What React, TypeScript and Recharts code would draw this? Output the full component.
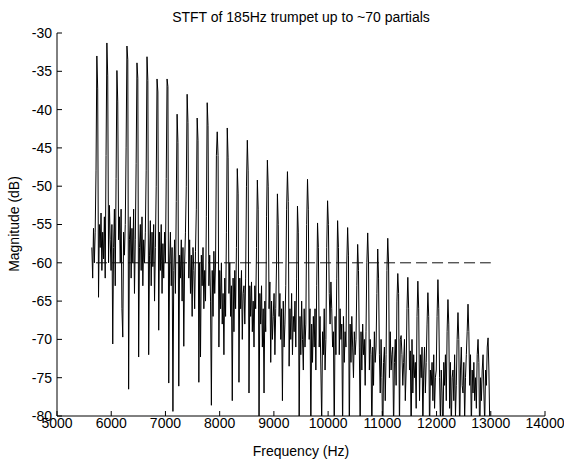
import React from 'react';
import { LineChart, Line, XAxis, YAxis } from 'recharts';

const title = 'STFT of 185Hz trumpet up to ~70 partials';
const xLabel = 'Frequency (Hz)';
const yLabel = 'Magnitude (dB)';
const xTicks = [5000, 6000, 7000, 8000, 9000, 10000, 11000, 12000, 13000, 14000];
const yTicks = [-80, -75, -70, -65, -60, -55, -50, -45, -40, -35, -30];

const fundamentalHz = 185;
const firstPartial = 31;
const binsPerPartial = 12;

// bins before partial 31
const leadBins = [-58, -62, -55.5, -60, -56, -48];

// partials 31-40, 12 bins per partial (peak first)
const partials31to40 = [
  -33.0, -37.3, -64.5, -55, -58, -53.5, -61, -56, -59.5, -54, -62, -46,
  -31.3, -35.6, -60, -52.5, -57, -61, -55, -70.6, -58, -53, -63, -49,
  -34.9, -39, -57, -54, -60, -53, -66, -69.7, -56, -59, -55, -45,
  -31.7, -33.5, -76.5, -57, -54, -62, -55.5, -60, -53, -64, -57, -47,
  -33.9, -35.9, -72.3, -58, -55, -61, -54, -63, -57, -60, -56, -48,
  -33.1, -36.2, -72, -59, -54.5, -63, -56, -60.5, -55, -65, -58, -50,
  -36.0, -37.7, -68.8, -56, -61, -55, -64, -57.5, -62, -56, -60, -49,
  -36.0, -37.0, -75.7, -60, -56, -63, -58, -79.4, -61, -57, -64, -52,
  -40.6, -44.3, -76.1, -59, -62, -57, -65, -58, -70.9, -60, -56, -50,
  -38.0, -41.7, -62, -57, -64, -59, -67, -58, -61, -66, -58.5, -53,
];

// partials 41-50
const partials41to50 = [
  -41.1, -44, -75.6, -60, -72.3, -59, -63, -58, -66, -61, -65, -54,
  -39.1, -42.1, -63, -59, -65, -78.6, -61, -67, -58.5, -64, -60, -46,
  -42.9, -46, -71, -61, -66, -60, -68, -64, -72, -62, -67, -56,
  -42.4, -46.3, -64, -60, -67, -63, -78, -62, -69, -61, -66, -58,
  -47.7, -51, -75.6, -62, -66, -61, -70, -64, -63, -68, -62, -50,
  -44.0, -48, -77, -63, -67, -62.5, -69, -65, -71, -63, -66, -58,
  -49.2, -53, -82, -64, -68, -63, -71, -66, -77, -65, -69, -54,
  -46.6, -50, -66, -62.5, -73, -65, -70, -67, -64, -72, -66, -60,
  -51.0, -55, -67, -64, -70, -66, -78, -65, -71, -68, -63, -53,
  -48.1, -52, -73.5, -66, -70, -64, -72, -67, -69, -65, -71, -62,
];

// partials 51-60
const partials51to60 = [
  -52.6, -56, -82, -67, -72, -65, -70, -74, -66, -71, -68, -55,
  -49.1, -53, -70, -66, -83, -68, -73, -67, -71, -66, -74, -63,
  -54.8, -58, -71, -67, -74, -81, -69, -72, -66, -74, -70, -58,
  -51.9, -55, -64, -68, -62.5, -66, -71, -69, -83, -67, -72, -62,
  -54.5, -58, -72, -66, -70, -68, -82, -67, -73, -69, -71, -60,
  -55.4, -59, -83, -68, -73, -67, -71, -75, -69, -72, -70, -63,
  -57.6, -61, -71, -82, -69, -74, -68, -72, -70, -76, -69, -60,
  -56.1, -60, -74, -70, -72, -83, -71, -76, -69, -73, -71, -64,
  -58.2, -62, -72, -77, -70, -75, -84, -73, -71, -78, -72, -61,
  -56.8, -60, -75, -69, -74, -72, -71, -82, -73, -70, -76, -65,
];

// partials 61-70
const partials61to70 = [
  -61.4, -64, -82, -70, -69.5, -72, -76, -73, -70, -78, -74, -66,
  -61.9, -66, -74, -71.5, -83, -70, -77, -72, -75, -73, -79, -67,
  -62.4, -66, -78, -72, -75, -71, -82, -74, -71, -77, -73, -68,
  -63.9, -67, -83, -74, -76, -73, -78, -72, -79, -75, -74, -67,
  -62.2, -66, -75, -81, -74, -77, -84, -73, -76, -72, -78, -69,
  -64.8, -68, -79, -73, -82, -75, -74, -78, -72, -80, -76, -70,
  -66.5, -70, -83, -74, -71, -76, -77, -73, -80.5, -75, -72, -69,
  -65.4, -69, -76, -72, -82, -74, -77, -73, -78, -75, -79, -72,
  -70.0, -73, -84, -75, -78, -74, -72, -77, -81, -74, -76, -71,
  -69.8, -74, -81, -83,
];

const thresholdDb = -60;
const thresholdFreqs = [5720, 13000];

const binHz = fundamentalHz / binsPerPartial;
const firstBinHz = firstPartial * fundamentalHz - leadBins.length * binHz;
const magnitudes = [...leadBins, ...partials31to40, ...partials41to50, ...partials51to60, ...partials61to70];
const spectrum = magnitudes.map((db, i) => ({ f: firstBinHz + i * binHz, db }));
const thresholdData = thresholdFreqs.map((f) => ({ f, t: thresholdDb }));

const font = '"Liberation Sans", Arial, sans-serif';

export default function App() {
  return (
    <div style={{ position: 'absolute', left: 0, top: 0, width: 564, height: 459, background: '#fff', fontFamily: font, color: '#000' }}>
      <LineChart width={564} height={459} data={spectrum} margin={{ top: 33, right: 19, bottom: 0, left: 0 }}>
        <XAxis
          dataKey="f"
          type="number"
          domain={[5000, 14000]}
          ticks={xTicks}
          interval={0}
          allowDataOverflow
          height={43}
          tickSize={-5}
          tickMargin={7}
          axisLine={{ stroke: '#000' }}
          tickLine={{ stroke: '#000' }}
          tick={{ fill: '#000', fontSize: 14, fontFamily: font }}
        />
        <YAxis
          type="number"
          domain={[-80, -30]}
          ticks={yTicks}
          interval={0}
          allowDataOverflow
          width={57}
          tickSize={-5}
          tickMargin={10}
          axisLine={{ stroke: '#000' }}
          tickLine={{ stroke: '#000' }}
          tick={{ fill: '#000', fontSize: 14, fontFamily: font }}
        />
        <Line dataKey="db" type="linear" stroke="#000" strokeWidth={1} dot={false} isAnimationActive={false} />
        <Line data={thresholdData} dataKey="t" type="linear" stroke="#111" strokeWidth={1} strokeDasharray="11 5" dot={false} isAnimationActive={false} />
      </LineChart>
      <div style={{ position: 'absolute', left: 57, width: 488, top: 9, textAlign: 'center', fontSize: 14, lineHeight: '16px' }}>{title}</div>
      <div style={{ position: 'absolute', left: 57, width: 488, top: 443, textAlign: 'center', fontSize: 14, lineHeight: '16px' }}>{xLabel}</div>
      <div style={{ position: 'absolute', left: 14, top: 224, transform: 'translate(-50%, -50%) rotate(-90deg)', whiteSpace: 'nowrap', fontSize: 14, lineHeight: '16px' }}>{yLabel}</div>
    </div>
  );
}
